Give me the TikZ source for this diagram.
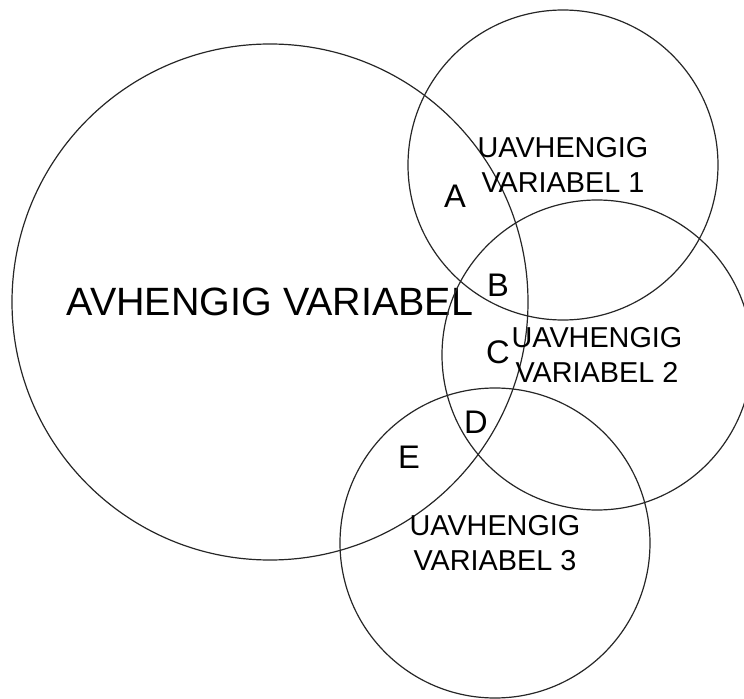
\documentclass[tikz,border=0pt]{standalone}
\usepackage{fontspec}
\setmainfont{Liberation Sans}

\begin{document}
\begin{tikzpicture}[x=0.75pt,y=-0.75pt,
	varcircle/.style={shape=circle,draw=black!85,line width=0.9pt,align=center,inner sep=0pt,
		minimum size=232.5pt,font=\fontsize{21.6}{26.3}\selectfont},
	region/.style={font=\fontsize{24.5}{28}\selectfont}]
	\useasboundingbox (0,0) rectangle (744,699);
	\clip (0,0) rectangle (744,699);

	% the dependent variable and the three independent ones
	\node[varcircle,minimum size=387pt,font=\fontsize{29.6}{34}\selectfont] (avh) at (270,302) {AVHENGIG VARIABEL};
	\node[varcircle] (uv1) at (563,165) {UAVHENGIG\\VARIABEL 1};
	\node[varcircle] (uv2) at (597,355) {UAVHENGIG\\VARIABEL 2};
	\node[varcircle] (uv3) at (495,543) {UAVHENGIG\\VARIABEL 3};

	% overlap regions
	\node[region] (a) at (455,196) {A};
	\node[region] (b) at (498,285) {B};
	\node[region] (c) at (498,352) {C};
	\node[region] (d) at (476,422) {D};
	\node[region] (e) at (409,457) {E};
\end{tikzpicture}
\end{document}
